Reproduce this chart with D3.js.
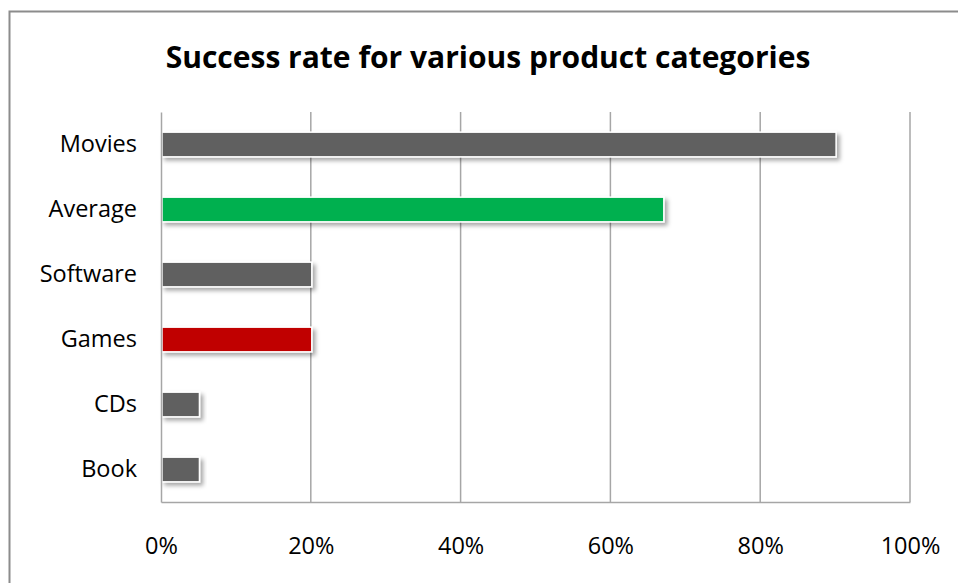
<!DOCTYPE html>
<html lang="en">
<head>
<meta charset="utf-8">
<title>Success rate for various product categories</title>
<script src="https://d3js.org/d3.v7.min.js"></script>
<style>
  body { margin: 0; background: #fff; }
  svg { display: block; }
</style>
</head>
<body>
<script>
const categories = ["Movies", "Average", "Software", "Games", "CDs", "Book"];
const rates = [0.90, 0.67, 0.20, 0.20, 0.05, 0.05];
const barColors = ["#606060", "#00b050", "#606060", "#c00000", "#606060", "#606060"];
const ticks = [0, 0.2, 0.4, 0.6, 0.8, 1.0];

const width = 958, height = 583;
const plot = { left: 161, right: 910, top: 112, bottom: 502 };

const svg = d3.select("body").append("svg")
  .attr("width", width)
  .attr("height", height);

// drop shadow for bars
const defs = svg.append("defs");
const f = defs.append("filter").attr("id", "shadow")
  .attr("x", "-10%").attr("y", "-30%").attr("width", "130%").attr("height", "180%");
f.append("feDropShadow")
  .attr("dx", 3).attr("dy", 3).attr("stdDeviation", 2)
  .attr("flood-color", "#000").attr("flood-opacity", 0.35);

// outer chart border (only top & left visible in frame)
svg.append("rect")
  .attr("x", 9.5).attr("y", 11.5)
  .attr("width", width + 20).attr("height", height + 20)
  .attr("fill", "none").attr("stroke", "#8c8c8c").attr("stroke-width", 2);

svg.append("text")
  .attr("x", 488).attr("y", 68)
  .attr("text-anchor", "middle")
  .style("font-family", "'Open Sans', sans-serif")
  .style("font-weight", "bold")
  .style("font-size", "30px")
  .attr("fill", "#000")
  .text("Success rate for various product categories");

const x = d3.scaleLinear().domain([0, 1]).range([plot.left, plot.right]);
const y = d3.scaleBand().domain(categories).range([plot.top, plot.bottom])
  .paddingInner(0.62).paddingOuter(0.31);

// gridlines
svg.append("g")
  .selectAll("line")
  .data(ticks.slice(1))
  .join("line")
  .attr("x1", d => x(d)).attr("x2", d => x(d))
  .attr("y1", plot.top).attr("y2", plot.bottom)
  .attr("stroke", "#a6a6a6").attr("stroke-width", 1.5);

// bars
svg.append("g")
  .selectAll("rect")
  .data(categories)
  .join("rect")
  .attr("x", x(0) + 1)
  .attr("y", d => y(d))
  .attr("width", (d, i) => x(rates[i]) - x(0))
  .attr("height", y.bandwidth())
  .attr("fill", (d, i) => barColors[i])
  .attr("stroke", "#fff").attr("stroke-width", 1.5)
  .attr("filter", "url(#shadow)");

// bottom axis
const bottomAxis = d3.axisBottom(x).tickValues(ticks)
  .tickFormat(d3.format(".0%")).tickSize(0).tickPadding(35);
svg.append("g")
  .attr("transform", "translate(0," + plot.bottom + ")")
  .call(bottomAxis)
  .call(g => g.select(".domain").attr("stroke", "#a6a6a6").attr("stroke-width", 1.5))
  .selectAll("text")
  .style("font-family", "'Open Sans', sans-serif")
  .style("font-size", "23.5px")
  .attr("fill", "#000");

// left axis
const leftAxis = d3.axisLeft(y).tickSize(0).tickPadding(24);
svg.append("g")
  .attr("transform", "translate(" + plot.left + ",0)")
  .call(leftAxis)
  .call(g => g.select(".domain").attr("stroke", "#a6a6a6").attr("stroke-width", 1.5))
  .selectAll("text")
  .style("font-family", "'Open Sans', sans-serif")
  .style("font-size", "23.5px")
  .attr("fill", "#000");
</script>
</body>
</html>
